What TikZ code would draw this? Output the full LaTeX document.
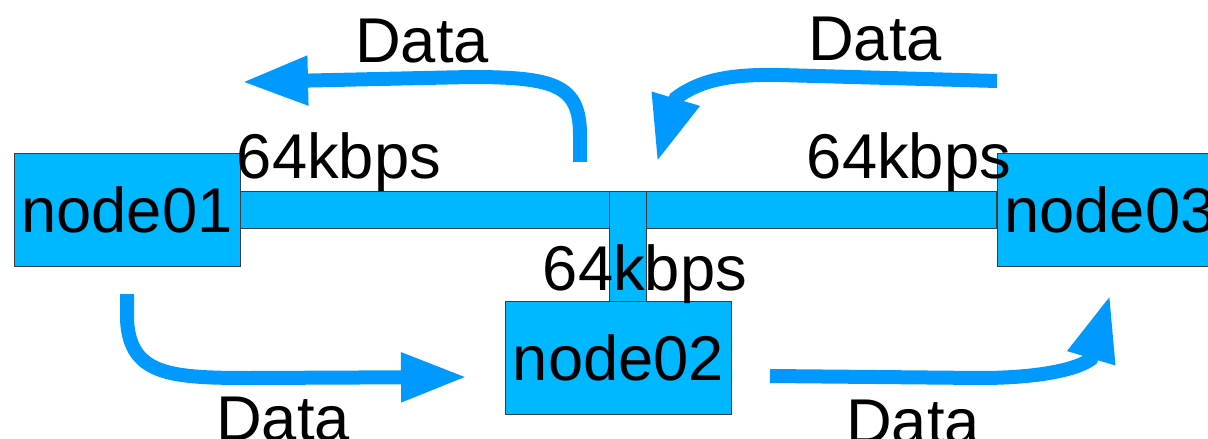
\documentclass[tikz,border=0pt]{standalone}
\usepackage{fontspec}
\setmainfont{Liberation Sans}
\usetikzlibrary{arrows.meta,positioning,calc}
\definecolor{boxblue}{RGB}{0,184,255}
\definecolor{flowblue}{RGB}{0,153,255}
\definecolor{edgegray}{RGB}{60,60,60}

\begin{document}
\begin{tikzpicture}[x=0.025cm, y=-0.025cm,
    hostbox/.style={draw=edgegray, fill=boxblue, line width=0.6pt,
        minimum width=5.65cm, minimum height=2.825cm, inner sep=0pt,
        font=\fontsize{45}{54}\selectfont},
    linkbar/.style={draw=edgegray, fill=boxblue, line width=0.6pt},
    flowarrow/.style={draw=flowblue, line width=0.35cm,
        -{Triangle[length=1.65cm, width=1.15cm]}},
    lbl/.style={anchor=base, inner sep=0pt, font=\fontsize{45}{54}\selectfont}]
    \clip (0,0) rectangle (1208,439);

    % Hosts
    \node[hostbox] (node01) at (127,209.5) {node01};
    \node[hostbox] (node02) at (618.5,358) {node02};
    \node[hostbox] (node03) at (1110,209.5) {node03};

    % Links
    \draw[linkbar] ($(node01.east)+(0,-18.5)$) rectangle ($(node03.west)+(0,18.5)$);
    \draw[linkbar] (609,191) rectangle (646,0 |- node02.north);

    % Bandwidth labels
    \node[lbl] (bw1) at (339,178) {64kbps};
    \node[lbl] (bw2) at (909,178) {64kbps};
    \node[lbl] (bw3) at (645,290) {64kbps};

    % Data flows
    \coordinate (f1s) at (580,162);  \coordinate (f1e) at (242,82);
    \coordinate (f2s) at (997,81);   \coordinate (f2e) at (657,162);
    \coordinate (f3s) at (127,294);  \coordinate (f3e) at (467,377);
    \coordinate (f4s) at (770,376);  \coordinate (f4e) at (1110,295);
    \draw[flowarrow] (f1s) -- (580,135) .. controls (580,85) and (555,77) .. (470,77) -- (f1e);
    \draw[flowarrow] (f2s) -- (780,75) .. controls (730,74) and (700,80) .. (676,98) -- (f2e);
    \draw[flowarrow] (f3s) -- (127,320) .. controls (130,375) and (170,378) .. (250,378) -- (f3e);
    \draw[flowarrow] (f4s) -- (980,378) .. controls (1040,378) and (1078,369) .. (1091,359) -- (f4e);
    \node[lbl] (d1) at (422,63) {Data};
    \node[lbl] (d2) at (875,61) {Data};
    \node[lbl] (d3) at (283,440) {Data};
    \node[lbl] (d4) at (913,443) {Data};
\end{tikzpicture}
\end{document}
